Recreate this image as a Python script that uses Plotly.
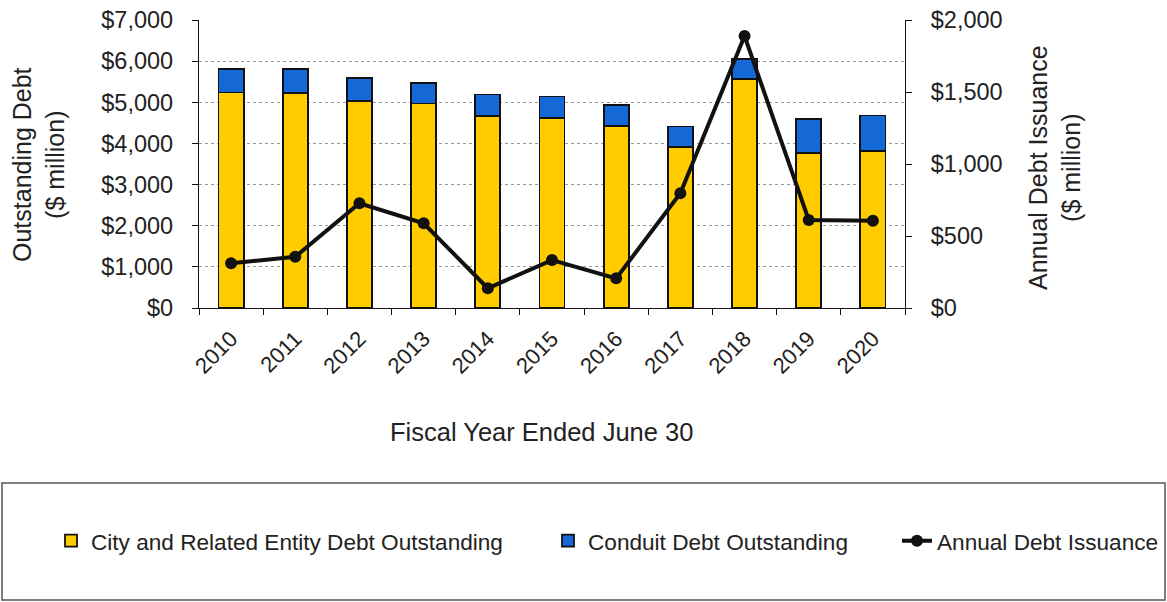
import plotly.graph_objects as go

years = ["2010", "2011", "2012", "2013", "2014", "2015", "2016", "2017", "2018", "2019", "2020"]
city_debt = [5240, 5230, 5040, 4970, 4670, 4610, 4420, 3920, 5560, 3760, 3820]
conduit_debt = [560, 570, 560, 490, 520, 530, 510, 490, 500, 830, 860]
annual_issuance = [310, 356, 727, 588, 137, 333, 206, 797, 1889, 611, 606]

FONT = "Arial, Liberation Sans, sans-serif"
TXT = "#222222"

L, R, T, B = 199, 905, 20, 308
W, H = 1167, 602
pw, ph = R - L, B - T


def px_x(x):
    return (x - L) / pw


def px_y(y):
    return (B - y) / ph


fig = go.Figure()
fig.add_trace(go.Bar(
    x=years, y=city_debt, name="City and Related Entity Debt Outstanding",
    marker=dict(color="#FFCC00", line=dict(color="#111111", width=1.8)),
    width=0.39, legend="legend",
))
fig.add_trace(go.Bar(
    x=years, y=conduit_debt, name="Conduit Debt Outstanding",
    marker=dict(color="#1569D6", line=dict(color="#111111", width=1.8)),
    width=0.39, legend="legend2",
))
fig.add_trace(go.Scatter(
    x=years, y=annual_issuance, name="Annual Debt Issuance", yaxis="y2",
    mode="lines+markers",
    line=dict(color="#111111", width=4),
    marker=dict(color="#111111", size=12),
    legend="legend3",
))

LEG_FONT = dict(size=22.6, family=FONT, color=TXT)


def leg(text_start):
    return dict(
        orientation="h", x=px_x(text_start - 40), y=px_y(541),
        xanchor="left", yanchor="middle",
        font=LEG_FONT, bgcolor="rgba(0,0,0,0)", borderwidth=0,
    )


fig.update_layout(
    width=W, height=H,
    margin=dict(l=L, r=W - R, t=T, b=H - B, autoexpand=False),
    paper_bgcolor="white", plot_bgcolor="white",
    barmode="stack",
    font=dict(family=FONT, color=TXT, size=19),
    showlegend=True,
    legend=leg(91),
    legend2=leg(588),
    legend3=leg(937),
    xaxis=dict(
        type="category", range=[-0.5, len(years) - 0.5],
        showline=True, linecolor="#111111", linewidth=1.2,
        ticks="outside", ticklen=6, tickcolor="#111111", tickson="boundaries",
        tickangle=-45, tickfont=dict(size=22, family=FONT, color=TXT),
        ticklabelstandoff=8,
        showgrid=False, mirror=False,
    ),
    yaxis=dict(
        range=[0, 7000], dtick=1000, tickprefix="$", tickformat=",d",
        showline=True, linecolor="#111111", linewidth=1.2,
        ticks="outside", ticklen=6, tickcolor="#111111",
        tickfont=dict(size=23.5, family=FONT, color=TXT),
        ticklabelstandoff=14,
        showgrid=True, gridcolor="#9a9a9a", gridwidth=1, griddash="dot",
        zeroline=False,
    ),
    yaxis2=dict(
        range=[0, 2000], dtick=500, tickprefix="$", tickformat=",d",
        overlaying="y", side="right",
        showline=True, linecolor="#111111", linewidth=1.2,
        ticks="outside", ticklen=6, tickcolor="#111111",
        tickfont=dict(size=23.5, family=FONT, color=TXT),
        ticklabelstandoff=14,
        showgrid=False, zeroline=False,
    ),
    shapes=[dict(
        type="rect", xref="paper", yref="paper",
        x0=px_x(2), x1=px_x(1165), y0=px_y(483), y1=px_y(600),
        line=dict(color="#555555", width=1.5), fillcolor="rgba(0,0,0,0)",
    )],
    annotations=[
        dict(text="Fiscal Year Ended June 30", xref="paper", yref="paper",
             x=px_x(541), y=px_y(432), xanchor="center", yanchor="middle",
             showarrow=False, font=dict(size=25.5, family=FONT, color=TXT)),
        dict(text="Outstanding Debt<br>($ million)", xref="paper", yref="paper",
             x=px_x(38), y=px_y(165), xanchor="center", yanchor="middle",
             textangle=-90, showarrow=False,
             font=dict(size=25, family=FONT, color=TXT)),
        dict(text="Annual Debt Issuance<br>($ million)", xref="paper", yref="paper",
             x=px_x(1054), y=px_y(168), xanchor="center", yanchor="middle",
             textangle=-90, showarrow=False,
             font=dict(size=25, family=FONT, color=TXT)),
    ],
)

fig.write_html("out.html", config={"displayModeBar": False},
               post_script="document.body.style.margin='0px';")
